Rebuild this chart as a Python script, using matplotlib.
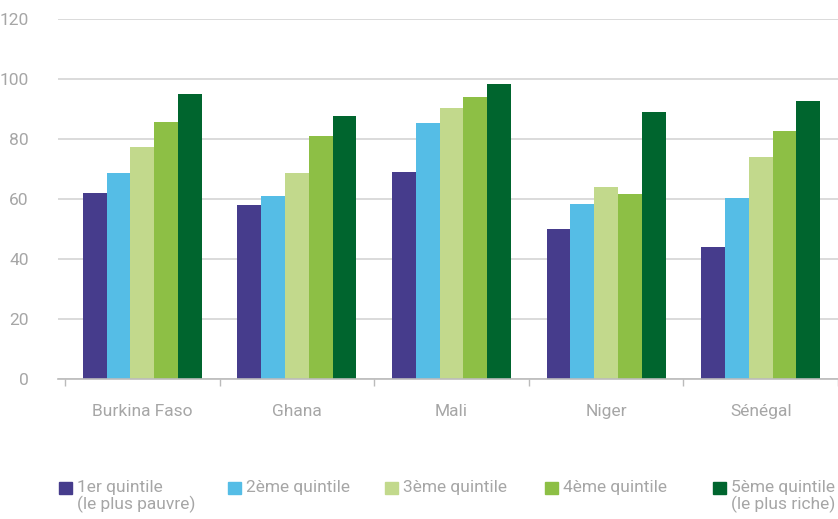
import numpy as np
import matplotlib.pyplot as plt
from matplotlib.patches import Rectangle

countries = ["Burkina Faso", "Ghana", "Mali", "Niger", "Sénégal"]
q1 = [62, 58, 69, 50, 44]
q2 = [68.7, 61, 85.3, 58.3, 60.3]
q3 = [77.3, 68.7, 90.3, 64, 74]
q4 = [85.7, 81, 94, 61.7, 82.7]
q5 = [95, 87.7, 98.3, 89, 92.7]
labels = ["1er quintile\n(le plus pauvre)", "2ème quintile", "3ème quintile",
          "4ème quintile", "5ème quintile\n(le plus riche)"]
colors = ["#463c8c", "#55bde6", "#c2d98c", "#8dbf45", "#00652e"]
yticks = [0, 20, 40, 60, 80, 100, 120]

plt.rcParams['font.family'] = ['Roboto', 'DejaVu Sans']
txt = "#a6a6a6"

W, H = 838, 519
fig = plt.figure(figsize=(W / 100, H / 100), dpi=100)
ax = fig.add_axes([58 / W, (H - 379) / H, (W - 58) / W, 360 / H])

series = [q1, q2, q3, q4, q5]
x = np.arange(len(countries))
bw = 0.154
for i, vals in enumerate(series):
    ax.bar(x + (i - 2) * bw, vals, bw, color=colors[i], zorder=3, linewidth=0)

ax.set_xlim(-0.545, 4.465)
ax.set_ylim(0, 120)
ax.set_yticks(yticks)
ax.set_yticklabels([str(v) for v in yticks])
ax.yaxis.grid(True, color="#d4d4d4", linewidth=1.2, zorder=0)
ax.tick_params(axis="y", length=0, pad=21, labelsize=12.5, labelcolor=txt)

ax.set_xticks(x)
ax.set_xticklabels(countries)
ax.tick_params(axis="x", length=0, pad=18, labelsize=12.5, labelcolor=txt)
ax.set_xticks(np.arange(-0.5, 4.6, 1), minor=True)
ax.tick_params(axis="x", which="minor", length=5, color="#bbbbbb", width=1)

for s in ["top", "right", "left"]:
    ax.spines[s].set_visible(False)
ax.spines["bottom"].set_color("#bbbbbb")
ax.spines["bottom"].set_linewidth(1.2)
ax.spines["bottom"].set_zorder(4)

# legend
leg_x = [59, 228, 385, 545, 713]
for lx, lab, c in zip(leg_x, labels, colors):
    fig.patches.append(Rectangle((lx / W, (H - 494) / H), 13 / W, 12 / H,
                                 transform=fig.transFigure, color=c))
    fig.text((lx + 18) / W, (H - 480) / H, lab, color=txt, fontsize=12.5,
             va="top", ha="left", linespacing=1.05)

fig.savefig("out.png", dpi=100)
